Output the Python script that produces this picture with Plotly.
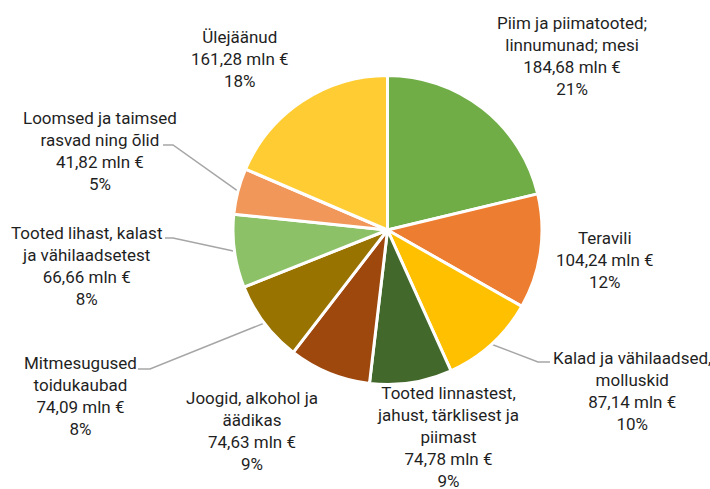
import math
import plotly.graph_objects as go

# ---- data ----
categories = [
    "Piim ja piimatooted; linnumunad; mesi",
    "Teravili",
    "Kalad ja vähilaadsed, molluskid",
    "Tooted linnastest, jahust, tärklisest ja piimast",
    "Joogid, alkohol ja äädikas",
    "Mitmesugused toidukaubad",
    "Tooted lihast, kalast ja vähilaadsetest",
    "Loomsed ja taimsed rasvad ning õlid",
    "Ülejäänud",
]
label_lines = [
    ["Piim ja piimatooted;", "linnumunad; mesi"],
    ["Teravili"],
    ["Kalad ja vähilaadsed,", "molluskid"],
    ["Tooted linnastest,", "jahust, tärklisest ja", "piimast"],
    ["Joogid, alkohol ja", "äädikas"],
    ["Mitmesugused", "toidukaubad"],
    ["Tooted lihast, kalast", "ja vähilaadsetest"],
    ["Loomsed ja taimsed", "rasvad ning õlid"],
    ["Ülejäänud"],
]
values = [184.68, 104.24, 87.14, 74.78, 74.63, 74.09, 66.66, 41.82, 161.28]
value_labels = ["184,68", "104,24", "87,14", "74,78", "74,63", "74,09", "66,66", "41,82", "161,28"]
percent_labels = ["21%", "12%", "10%", "9%", "9%", "8%", "8%", "5%", "18%"]

colors = ["#70AD47", "#ED7D31", "#FFC000", "#43682B", "#9E480E",
          "#997300", "#8CC168", "#F1975A", "#FFCD33"]

# ---- layout (pixel space) ----
W, H = 710, 489
CX, CY, R = 387.5, 230.0, 154.5
FONT = "Roboto, sans-serif"
FS = 17
TXT = "#1f1f1f"

# label block centres
label_pos = [(572, 55.5), (605, 260), (632, 391), (448, 437), (252, 431),
             (80, 396), (86, 265.5), (100, 151), (240, 58.5)]
# leader lines: (start at label, elbow) for slices that have one
leaders = {
    2: [(550, 362), (538, 362)],
    5: [(138, 369), (150, 369)],
    6: [(165, 238), (173, 238)],
    7: [(163, 145), (173, 145)],
}

fig = go.Figure()
fig.add_trace(go.Pie(
    labels=categories, values=values, sort=False, direction="clockwise",
    rotation=0, textinfo="none", hoverinfo="label+value",
    marker=dict(colors=colors, line=dict(color="white", width=3)),
    domain=dict(x=[(CX - R) / W, (CX + R) / W],
                y=[(H - CY - R) / H, (H - CY + R) / H]),
    showlegend=False,
))

# hidden axes in pixel coordinates for annotations & leader lines
fig.update_xaxes(range=[0, W], visible=False, fixedrange=True)
fig.update_yaxes(range=[H, 0], visible=False, fixedrange=True)

total = sum(values)
cum = 0.0
for i, v in enumerate(values):
    mid = (cum + v / 2) / total * 2 * math.pi
    cum += v
    px = CX + R * math.sin(mid)
    py = CY - R * math.cos(mid)
    if i in leaders:
        pts = leaders[i] + [(px, py)]
        fig.add_trace(go.Scatter(
            x=[p[0] for p in pts], y=[p[1] for p in pts], mode="lines",
            line=dict(color="#A6A6A6", width=1.5), hoverinfo="skip",
            showlegend=False))
    text = "<br>".join(label_lines[i] + [value_labels[i] + " mln €", percent_labels[i]])
    fig.add_annotation(x=label_pos[i][0], y=label_pos[i][1], xref="x", yref="y",
                       text=text, showarrow=False, align="center",
                       xanchor="center", yanchor="middle",
                       font=dict(family=FONT, size=FS, color=TXT))

fig.update_layout(
    width=W, height=H, margin=dict(l=0, r=0, t=0, b=0),
    paper_bgcolor="white", plot_bgcolor="white",
)
fig.write_html("out.html", config={"displayModeBar": False},
               post_script="document.body.style.margin='0';document.body.style.overflow='hidden';")
